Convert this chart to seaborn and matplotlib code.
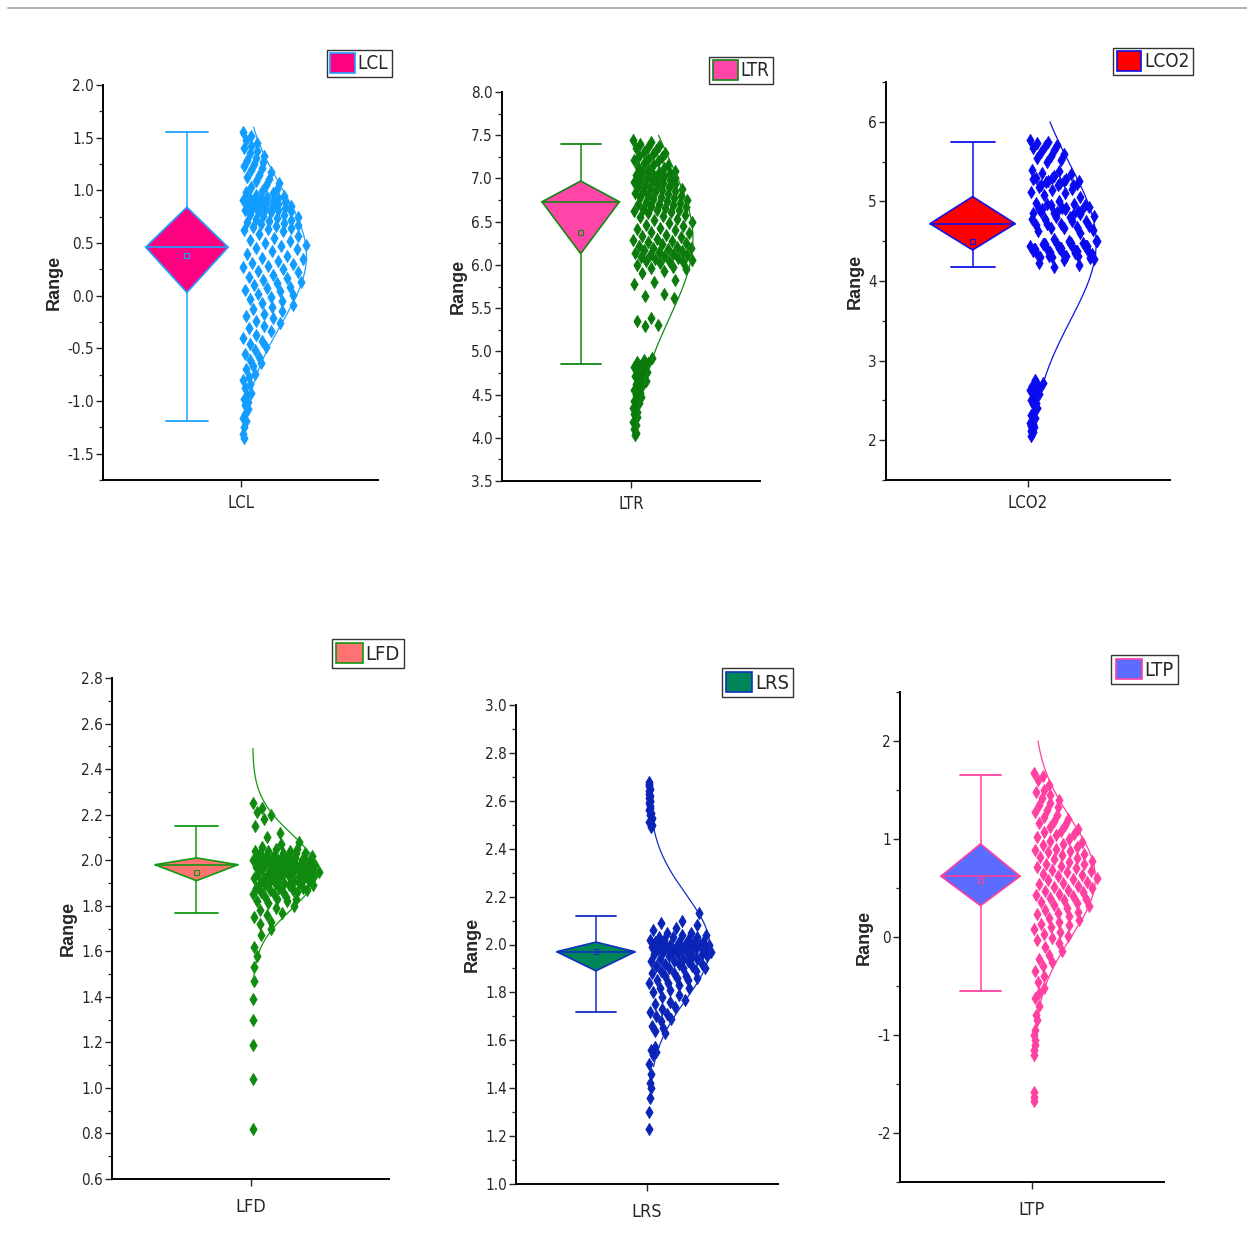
import numpy as np
import pandas as pd
import matplotlib
matplotlib.use('Agg')
import matplotlib.pyplot as plt
from matplotlib import font_manager as fm
from matplotlib.patches import Patch, Polygon
from matplotlib.lines import Line2D
from matplotlib.ticker import MultipleLocator, FormatStrFormatter
import seaborn as sns

sns.set_style('ticks')
plt.rcParams['font.family'] = ['Liberation Sans', 'DejaVu Sans']
plt.rcParams['axes.unicode_minus'] = False

# 找一个窄的无衬线字体 (Arial Narrow look), else fall back to regular sans
pref = ['Liberation Sans Narrow', 'Arimo', 'DejaVu Sans', 'Roboto', 'Noto Sans', 'Open Sans', 'Lato', 'Inter']
cands = []
for f in fm.fontManager.ttflist:
    nm, st = f.name, f.stretch
    low = f.fname.lower()
    if 'Serif' in nm or 'Mono' in nm or 'CJK' in nm or 'serif' in low or 'mono' in low:
        continue
    if 'bold' in low or 'italic' in low or 'oblique' in low or f.style != 'normal':
        continue
    cond = ('Narrow' in nm or 'Condensed' in nm or 'condensed' in low or 'narrow' in low or
            (isinstance(st, str) and 'condensed' in st) or (isinstance(st, (int, float)) and st < 500))
    if not cond or f.weight not in (400, 'normal', 'regular', 'book'):
        continue
    rank = next((i for i, p in enumerate(pref) if nm.startswith(p)), len(pref))
    cands.append((rank, f.fname))
cands.sort()
if cands:
    tick_fp = dict(fname=cands[0][1])
    tick_size, leg_scale = 11, 1.0
else:
    tick_fp = dict(family=['Liberation Sans', 'DejaVu Sans'])
    tick_size, leg_scale = 9.5, 0.85

# 数据
names = ['LCL', 'LTR', 'LCO2', 'LFD', 'LRS', 'LTP']

lcl_vals = [1.55, 1.52, 1.48, 1.45, 1.42, 1.40, 1.37, 1.35, 1.33, 1.31, 1.29, 1.27, 1.25, 1.23, 1.21, 1.19,
            1.17, 1.15, 1.13, 1.11, 1.09, 1.07, 1.05, 1.03, 1.01,
            0.99, 0.98, 0.97, 0.96, 0.95, 0.94, 0.93, 0.93, 0.92, 0.91, 0.90, 0.90, 0.89, 0.88, 0.87, 0.87,
            0.86, 0.85, 0.84, 0.84, 0.83, 0.82, 0.81, 0.81, 0.80, 0.80, 0.79, 0.78, 0.77, 0.76, 0.75, 0.74,
            0.73, 0.72, 0.71, 0.70, 0.69, 0.68, 0.67, 0.66, 0.65, 0.64, 0.63, 0.62, 0.61,
            0.59, 0.57, 0.55, 0.53, 0.52, 0.50, 0.48, 0.47, 0.45, 0.44, 0.42, 0.40, 0.38, 0.36, 0.35, 0.33,
            0.31, 0.30, 0.28, 0.27, 0.25, 0.23, 0.22, 0.20, 0.18, 0.17, 0.15, 0.13, 0.12, 0.10, 0.08, 0.07,
            0.05, 0.04, 0.02, 0.01,
            -0.01, -0.03, -0.05, -0.07, -0.09, -0.11, -0.13, -0.15, -0.17, -0.19, -0.21, -0.24, -0.26, -0.29,
            -0.31, -0.34, -0.37, -0.40, -0.43, -0.46, -0.49,
            -0.52, -0.55, -0.58, -0.61, -0.64, -0.67, -0.70, -0.74, -0.77, -0.80, -0.84, -0.88, -0.92, -0.95,
            -0.98, -1.01, -1.04, -1.08, -1.12, -1.16, -1.19, -1.25, -1.31, -1.35]

ltr_vals = [7.45, 7.42, 7.40, 7.38, 7.36, 7.35, 7.33, 7.31, 7.30, 7.28, 7.26, 7.25, 7.23, 7.21, 7.20, 7.18,
            7.16, 7.15, 7.13, 7.12, 7.10, 7.09, 7.08, 7.07, 7.06, 7.05, 7.04, 7.03, 7.02, 7.01, 7.00, 6.99,
            6.98, 6.97, 6.96, 6.95, 6.94, 6.93, 6.92, 6.91, 6.90, 6.89, 6.88, 6.87, 6.86, 6.85, 6.84, 6.83,
            6.82, 6.81, 6.80, 6.79, 6.78, 6.77, 6.76, 6.75, 6.74, 6.73, 6.72, 6.71, 6.70, 6.69, 6.68, 6.67,
            6.66, 6.65, 6.64, 6.63, 6.62, 6.61, 6.60, 6.58, 6.56, 6.55, 6.53, 6.52, 6.50,
            6.48, 6.46, 6.45, 6.43, 6.42, 6.40, 6.38, 6.37, 6.35, 6.33, 6.32, 6.30, 6.29, 6.28, 6.26, 6.25,
            6.24, 6.22, 6.21, 6.20, 6.19, 6.18, 6.17, 6.16, 6.15, 6.14, 6.13, 6.12, 6.11, 6.10, 6.09, 6.08,
            6.07, 6.06, 6.05, 6.04, 6.03, 6.02, 6.00, 5.98, 5.96, 5.95, 5.93, 5.91,
            5.82, 5.80, 5.78, 5.66, 5.64, 5.62, 5.38, 5.35, 5.31, 5.29,
            4.92, 4.90, 4.88, 4.86, 4.84, 4.82, 4.80, 4.78, 4.76, 4.74, 4.72, 4.70, 4.68, 4.66, 4.64, 4.62,
            4.60, 4.57, 4.55, 4.52, 4.50, 4.47, 4.45, 4.42, 4.40, 4.37, 4.34, 4.30, 4.27, 4.24, 4.21, 4.18,
            4.15, 4.10, 4.06, 4.03]

lco2_vals = [5.77, 5.75, 5.73, 5.71, 5.69, 5.67, 5.65, 5.62, 5.60, 5.57, 5.55, 5.52, 5.50,
             5.40, 5.38, 5.36, 5.34, 5.32, 5.30, 5.28, 5.26, 5.25, 5.23, 5.21, 5.20,
             5.30, 5.28, 5.26, 5.24, 5.22, 5.20, 5.18, 5.16, 5.14, 5.12, 5.10, 5.08, 5.06,
             5.00, 4.98, 4.97, 4.95, 4.93, 4.92, 4.90, 4.88, 4.87, 4.85, 4.83,
             4.97, 4.95, 4.92, 4.90, 4.88, 4.85, 4.82, 4.80, 4.78, 4.75, 4.72, 4.70, 4.68, 4.66, 4.64,
             4.90, 4.87, 4.84, 4.81, 4.78, 4.75, 4.72, 4.69, 4.66, 4.63, 4.60,
             4.53, 4.50, 4.48, 4.46, 4.44, 4.42, 4.40, 4.38, 4.36, 4.34, 4.32, 4.30,
             4.48, 4.46, 4.44, 4.42, 4.40, 4.38, 4.36, 4.34, 4.32, 4.30, 4.28,
             4.50, 4.47, 4.44, 4.41, 4.38, 4.35, 4.32, 4.29, 4.26, 4.23, 4.20, 4.17,
             4.50, 4.48, 4.46, 4.44, 4.42, 4.40, 4.38,
             2.75, 2.72, 2.70, 2.68, 2.66, 2.65, 2.63, 2.62, 2.60, 2.58, 2.55, 2.50, 2.47, 2.45, 2.40,
             2.35, 2.32, 2.28, 2.25, 2.22, 2.20, 2.18, 2.16, 2.14, 2.12, 2.10, 2.05]

lfd_vals = [2.25, 2.23, 2.21, 2.20, 2.18, 2.15, 2.12, 2.10, 2.08, 2.07, 2.06, 2.05, 2.05, 2.04, 2.04, 2.04,
            2.03, 2.03, 2.03, 2.03, 2.02, 2.02, 2.02, 2.02, 2.01, 2.01, 2.01, 2.01, 2.01, 2.00, 2.00, 2.00,
            2.00, 2.00, 2.00, 1.99, 1.99, 1.99, 1.99, 1.99, 1.98, 1.98, 1.98, 1.98, 1.98, 1.97, 1.97, 1.97,
            1.97, 1.96, 1.96, 1.96, 1.96, 1.95, 1.95, 1.95, 1.95, 1.94, 1.94, 1.94, 1.94, 1.93, 1.93, 1.93,
            1.93, 1.92, 1.92, 1.92, 1.92, 1.91, 1.91, 1.91, 1.90, 1.90, 1.90, 1.90, 1.89, 1.89, 1.89, 1.88,
            1.88, 1.88, 1.87, 1.87, 1.87, 1.86, 1.86, 1.86, 1.85, 1.85, 1.84, 1.84, 1.83, 1.83, 1.82, 1.82,
            1.81, 1.80, 1.79, 1.78, 1.77, 1.76, 1.75, 1.73, 1.72, 1.70, 1.67, 1.62, 1.58, 1.53, 1.47, 1.39,
            1.30, 1.19, 1.04, 0.82]

lrs_vals = [2.68, 2.67, 2.66, 2.65, 2.64, 2.63, 2.62, 2.61, 2.60, 2.60, 2.59, 2.58, 2.57, 2.56, 2.55, 2.54,
            2.53, 2.52, 2.51, 2.50, 2.49,
            2.13, 2.10, 2.09, 2.08, 2.07, 2.06, 2.05, 2.05, 2.04, 2.04, 2.03, 2.03, 2.03, 2.02, 2.02, 2.02,
            2.01, 2.01, 2.01, 2.01, 2.00, 2.00, 2.00, 2.00, 2.00, 1.99, 1.99, 1.99, 1.99, 1.98, 1.98, 1.98,
            1.98, 1.97, 1.97, 1.97, 1.97, 1.96, 1.96, 1.96, 1.95, 1.95, 1.95, 1.94, 1.94, 1.94, 1.93, 1.93,
            1.93, 1.92, 1.92, 1.92, 1.91, 1.91, 1.90, 1.90, 1.90, 1.89, 1.89, 1.88, 1.88, 1.87, 1.87, 1.86,
            1.86, 1.85, 1.85, 1.84, 1.84, 1.83, 1.82, 1.82, 1.81, 1.80,
            1.79, 1.78, 1.77, 1.76, 1.75, 1.74, 1.73, 1.72, 1.71, 1.70, 1.69, 1.68, 1.66, 1.65, 1.64, 1.63,
            1.57, 1.56, 1.55, 1.54, 1.50, 1.46, 1.42, 1.40, 1.36, 1.30, 1.23]

ltp_vals = [1.67, 1.64, 1.60, 1.55, 1.50, 1.48, 1.45, 1.42, 1.40, 1.37, 1.35, 1.33, 1.30, 1.28, 1.25, 1.22,
            1.20, 1.18, 1.16, 1.14, 1.12, 1.10, 1.08, 1.07, 1.05, 1.04, 1.02, 1.00, 0.98, 0.97, 0.95, 0.94,
            0.92, 0.90, 0.89, 0.88, 0.87, 0.85, 0.84, 0.82, 0.81, 0.80, 0.78, 0.77, 0.75, 0.74, 0.72, 0.71,
            0.70, 0.68, 0.67, 0.66, 0.64, 0.63, 0.62, 0.60, 0.59, 0.58, 0.56, 0.55, 0.54, 0.52, 0.51, 0.50,
            0.48, 0.47, 0.46, 0.44, 0.43, 0.42, 0.40, 0.39, 0.38, 0.36, 0.35, 0.33, 0.32, 0.30, 0.28, 0.26,
            0.25, 0.23, 0.21, 0.19, 0.17, 0.15, 0.13, 0.12, 0.10, 0.08, 0.05, 0.03, 0.01, -0.01, -0.03,
            -0.06, -0.10, -0.14, -0.18, -0.22, -0.26, -0.30, -0.35, -0.40, -0.46, -0.52, -0.57, -0.62,
            -0.70, -0.80, -0.85, -0.95, -1.00, -1.05, -1.10, -1.15, -1.20, -1.58, -1.63, -1.67]

values = [lcl_vals, ltr_vals, lco2_vals, lfd_vals, lrs_vals, ltp_vals]

# diamond box statistics
q1 = [0.03, 6.13, 4.39, 1.91, 1.89, 0.32]
median = [0.46, 6.73, 4.72, 1.98, 1.97, 0.62]
q3 = [0.84, 6.97, 5.06, 2.01, 2.01, 0.95]
means = [0.38, 6.37, 4.50, 1.945, 1.97, 0.58]
whisk_lo = [-1.19, 4.85, 4.17, 1.77, 1.72, -0.55]
whisk_hi = [1.55, 7.40, 5.75, 2.15, 2.12, 1.65]

# normal curve
curve_mu = [0.38, 6.30, 4.48, 1.95, 1.99, 0.60]
curve_sd = [0.65, 0.92, 0.98, 0.165, 0.22, 0.60]
curve_lo = [-1.40, 4.05, 2.20, 1.45, 1.49, -1.27]
curve_hi = [1.60, 7.50, 6.00, 2.49, 2.49, 2.00]

fill_colors = ['#FF0080', '#FF45A8', '#FF0000', '#FF7373', '#008558', '#5B6CFF']
line_colors = ['#1EA0FF', '#118811', '#1010E8', '#119911', '#1030C0', '#FF40A0']
point_colors = ['#119CFF', '#0A7A0A', '#0A0AF0', '#0F8A0F', '#0A24B8', '#FF40A0']

ylims = [(-1.75, 2.0), (3.5, 8.0), (1.5, 6.5), (0.6, 2.8), (1.0, 3.0), (-2.5, 2.5)]
major_step = [0.5, 0.5, 1, 0.2, 0.2, 1]
minor_step = [0.25, 0.25, 0.5, 0.1, 0.1, 0.5]
tick_fmt = ['%.1f', '%.1f', '%d', '%.1f', '%.1f', '%d']

W, H = 1247, 1255
# axes box in pixels: left, top, right, bottom
axes_px = [(103, 85, 378, 480), (502, 92, 760, 481), (886, 82, 1170, 480),
           (112, 678, 389, 1179), (516, 705, 778, 1184), (900, 692, 1164, 1182)]
legend_px = [(392, 77), (773, 84), (1193, 75), (404, 668), (793, 697), (1178, 684)]
legend_fs = [13.5, 13.5, 13.5, 14.5, 14.5, 14.5]
cat_size = [12, 12, 12, 13, 13, 13]
cat_pad = [5, 5, 5, 9, 9, 9]

fig = plt.figure(figsize=(W / 100, H / 100), dpi=100)
fig.add_artist(Line2D([8 / W, 1], [1 - 8 / H, 1 - 8 / H], color='#aaaaaa', lw=1.3,
                      transform=fig.transFigure))

bx, hw, cap = -0.39, 0.30, 0.155
for k, name in enumerate(names):
    l, t, r, b = axes_px[k]
    ax = fig.add_axes([l / W, 1 - b / H, (r - l) / W, (b - t) / H])
    fill, line, pc = fill_colors[k], line_colors[k], point_colors[k]

    # 散点: spread to the right inside the normal envelope
    vals = np.array(values[k])
    env = np.exp(-0.5 * ((vals - curve_mu[k]) / curve_sd[k]) ** 2)
    u = (np.arange(len(vals)) * 0.6180339887) % 1
    df = pd.DataFrame({'x': 0.015 + u * 0.48 * env, 'y': vals})
    sns.scatterplot(data=df, x='x', y='y', marker='d', s=38, color=pc, edgecolor=pc,
                    linewidth=0.6, ax=ax, zorder=3)

    # 正态曲线
    yc = np.linspace(curve_lo[k], curve_hi[k], 300)
    xc = 0.015 + 0.465 * np.exp(-0.5 * ((yc - curve_mu[k]) / curve_sd[k]) ** 2)
    sns.lineplot(x=xc, y=yc, sort=False, estimator=None, color=line, lw=0.9, ax=ax, zorder=4)

    # diamond box
    ax.add_patch(Polygon([(bx - hw, median[k]), (bx, q3[k]), (bx + hw, median[k]), (bx, q1[k])],
                         closed=True, fc=fill, ec=line, lw=1.2, zorder=3))
    ax.plot([bx - hw, bx + hw], [median[k], median[k]], color=line, lw=1.2, zorder=4)
    ax.plot([bx, bx], [q3[k], whisk_hi[k]], color=line, lw=1.1, zorder=2)
    ax.plot([bx, bx], [q1[k], whisk_lo[k]], color=line, lw=1.1, zorder=2)
    ax.plot([bx - cap, bx + cap], [whisk_hi[k]] * 2, color=line, lw=1.3, zorder=2)
    ax.plot([bx - cap, bx + cap], [whisk_lo[k]] * 2, color=line, lw=1.3, zorder=2)
    ax.scatter([bx], [means[k]], marker='s', s=12, facecolor='none', edgecolor=line, lw=0.8, zorder=5)

    ax.set_xlim(-1, 1)
    ax.set_ylim(*ylims[k])
    ax.set_xticks([0])
    ax.set_xticklabels([name])
    ax.set_xlabel('')
    ax.yaxis.set_major_locator(MultipleLocator(major_step[k]))
    ax.yaxis.set_minor_locator(MultipleLocator(minor_step[k]))
    ax.yaxis.set_major_formatter(FormatStrFormatter(tick_fmt[k]))
    ax.tick_params(axis='y', which='major', length=5, width=1, pad=1.5)
    ax.tick_params(axis='y', which='minor', length=3, width=0.9)
    ax.tick_params(axis='x', length=5, width=1, pad=cat_pad[k])
    for lbl in ax.get_yticklabels():
        lbl.set_fontproperties(fm.FontProperties(size=tick_size, **tick_fp))
    for lbl in ax.get_xticklabels():
        lbl.set_fontproperties(fm.FontProperties(size=cat_size[k], **tick_fp))
    for s in ['top', 'right']:
        ax.spines[s].set_visible(False)
    for s in ['left', 'bottom']:
        ax.spines[s].set_linewidth(1.4)
        ax.spines[s].set_color('black')

    # "Range" just clear of the tick labels
    ax.set_ylabel('Range', fontsize=13, fontweight='bold', family=['Liberation Sans', 'DejaVu Sans'],
                  labelpad=3)

    lx, ly = legend_px[k]
    ax.legend(handles=[Patch(facecolor=fill, edgecolor=line, lw=1.2, label=name)],
              loc='lower right', bbox_to_anchor=((lx - l) / (r - l), (b - ly) / (b - t)),
              frameon=True, fancybox=False, edgecolor='#333333', framealpha=1,
              prop=fm.FontProperties(size=legend_fs[k] * leg_scale, **tick_fp),
              handlelength=1.3, handleheight=1.2, handletextpad=0.15,
              borderpad=0.2, borderaxespad=0)

fig.savefig('out.png', dpi=100, facecolor='white')
